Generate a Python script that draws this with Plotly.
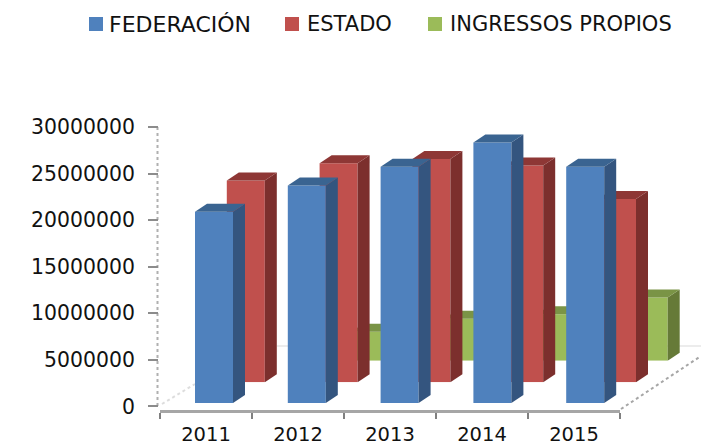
import plotly.graph_objects as go

YEARS = ["2011", "2012", "2013", "2014", "2015"]
FEDERACION = [20570000, 23400000, 25400000, 28000000, 25400000]
ESTADO = [21700000, 23550000, 24000000, 23300000, 19700000]
INGRESOS = [0, 3100000, 4500000, 5000000, 6800000]
TICKS = [0, 5000000, 10000000, 15000000, 20000000, 25000000, 30000000]
LEGEND = ["FEDERACIÓN", "ESTADO", "INGRESSOS PROPIOS"]

W, H = 701, 446
FONT = "DejaVu Sans"
TXT = "#111111"
PX_PER_UNIT = 46.5 / 5000000
CAT_PX = 92.8
BAR_W = 38 / CAT_PX
DX = 12 / CAT_PX
DY = 8 / PX_PER_UNIT


def fx(px):
    return px / W


def fy(px):
    return 1 - px / H


fig = go.Figure()

# Frame axes: carry the visible scale
fig.add_trace(go.Scatter(x=YEARS, y=[None] * 5, xaxis="x", yaxis="y", showlegend=False))
fig.update_layout(
    xaxis=dict(
        type="category", categoryorder="array", categoryarray=YEARS, range=[-0.5, 4.5],
        domain=[fx(160), fx(620)], anchor="y", tickson="boundaries", automargin=False,
        showline=True, linecolor="#a6a6a6", linewidth=2.5,
        ticks="outside", ticklen=6, tickcolor="#808080", tickwidth=1.5,
        showgrid=False, zeroline=False, ticklabelstandoff=5,
        tickfont=dict(family=FONT, size=19.5, color=TXT),
    ),
    yaxis=dict(
        range=[-(410 - 406.5) / PX_PER_UNIT, 30000000], automargin=False,
        domain=[fy(410), fy(127)], anchor="free", position=fx(158), side="left",
        tickvals=TICKS, ticktext=[str(t) for t in TICKS], tickmode="array",
        showline=False, showgrid=False, zeroline=False,
        ticks="outside", ticklen=10, tickcolor="#8c8c8c", tickwidth=1.5,
        ticklabelstandoff=9,
        tickfont=dict(family=FONT, size=20.4, color=TXT),
    ),
)

SERIES = [
    # name, values, front, side, top, base pixel, centre pixel of first bar
    (LEGEND[2], INGRESOS, "#9BBB59", "#667A38", "#7A9446", 360.7, 277.5, 2),
    (LEGEND[1], ESTADO, "#C0504D", "#7C2F2D", "#8E3735", 382.3, 245.8, 3),
    (LEGEND[0], FEDERACION, "#4F81BD", "#34557F", "#3A6491", 403.0, 214.0, 4),
]

for name, vals, front, side, top, base_px, c0, n in SERIES:
    xid, yid = f"x{n}", f"y{n}"
    idx = list(range(len(vals)))
    shown = [i for i in idx if vals[i] > 0]
    fig.add_trace(go.Bar(
        x=shown, y=[vals[i] for i in shown], name=name, width=BAR_W,
        marker=dict(color=front, line=dict(width=0)), xaxis=xid, yaxis=yid,
        showlegend=False,
    ))
    for i in shown:
        v = vals[i]
        r = i + BAR_W / 2
        l = i - BAR_W / 2
        fig.add_trace(go.Scatter(
            x=[r, r + DX, r + DX, r, r], y=[0, DY, v + DY, v, 0],
            fill="toself", fillcolor=side, mode="lines", line=dict(width=0),
            xaxis=xid, yaxis=yid, showlegend=False, hoverinfo="skip",
        ))
        fig.add_trace(go.Scatter(
            x=[l, l + DX, r + DX, r, l], y=[v, v + DY, v + DY, v, v],
            fill="toself", fillcolor=top, mode="lines", line=dict(width=0),
            xaxis=xid, yaxis=yid, showlegend=False, hoverinfo="skip",
        ))
    dom_x = [fx(c0 - CAT_PX / 2), fx(c0 + 4.5 * CAT_PX)]
    dom_y = [fy(base_px), fy(base_px - 30000000 * PX_PER_UNIT)]
    fig.layout[f"xaxis{n}"] = dict(visible=False, range=[-0.5, 4.5], domain=dom_x, anchor=yid, automargin=False)
    fig.layout[f"yaxis{n}"] = dict(visible=False, range=[0, 30000000], domain=dom_y, anchor=xid, automargin=False)

shapes = [
    dict(type="line", xref="paper", yref="paper", x0=fx(157.5), x1=fx(157.5), y0=fy(406), y1=fy(127),
         line=dict(color="#b0b0b0", width=2, dash="dot"), layer="below"),
    dict(type="line", xref="paper", yref="paper", x0=fx(621), x1=fx(701), y0=fy(409), y1=fy(356),
         line=dict(color="#a6a6a6", width=2, dash="dot"), layer="below"),
    dict(type="line", xref="paper", yref="paper", x0=fx(277), x1=fx(701), y0=fy(346), y1=fy(346),
         line=dict(color="#d9d9d9", width=1), layer="below"),
    dict(type="line", xref="paper", yref="paper", x0=fx(162), x1=fx(195), y0=fy(404), y1=fy(384),
         line=dict(color="#dddddd", width=2, dash="dot"), layer="below"),
]
annotations = []
legend_items = [(LEGEND[0], "#4F81BD", 89, 107, 22), (LEGEND[1], "#C0504D", 285, 305, 21), (LEGEND[2], "#9BBB59", 428, 448, 21)]
for label, color, sq, tx, size in legend_items:
    shapes.append(dict(type="rect", xref="paper", yref="paper", x0=fx(sq), x1=fx(sq + 14),
                       y0=fy(31), y1=fy(17), fillcolor=color, line=dict(width=0)))
    annotations.append(dict(text=label, xref="paper", yref="paper", x=fx(tx), y=fy(24),
                            xanchor="left", yanchor="middle", showarrow=False,
                            font=dict(family=FONT, size=size, color=TXT)))

fig.update_layout(
    width=W, height=H, autosize=False, margin=dict(l=0, r=0, t=0, b=0, pad=0),
    paper_bgcolor="white", plot_bgcolor="rgba(0,0,0,0)", barmode="overlay",
    showlegend=False, shapes=shapes, annotations=annotations,
)

fig.write_html("out.html", config={"displayModeBar": False},
               post_script="document.body.style.margin='0';document.body.style.overflow='hidden';")
